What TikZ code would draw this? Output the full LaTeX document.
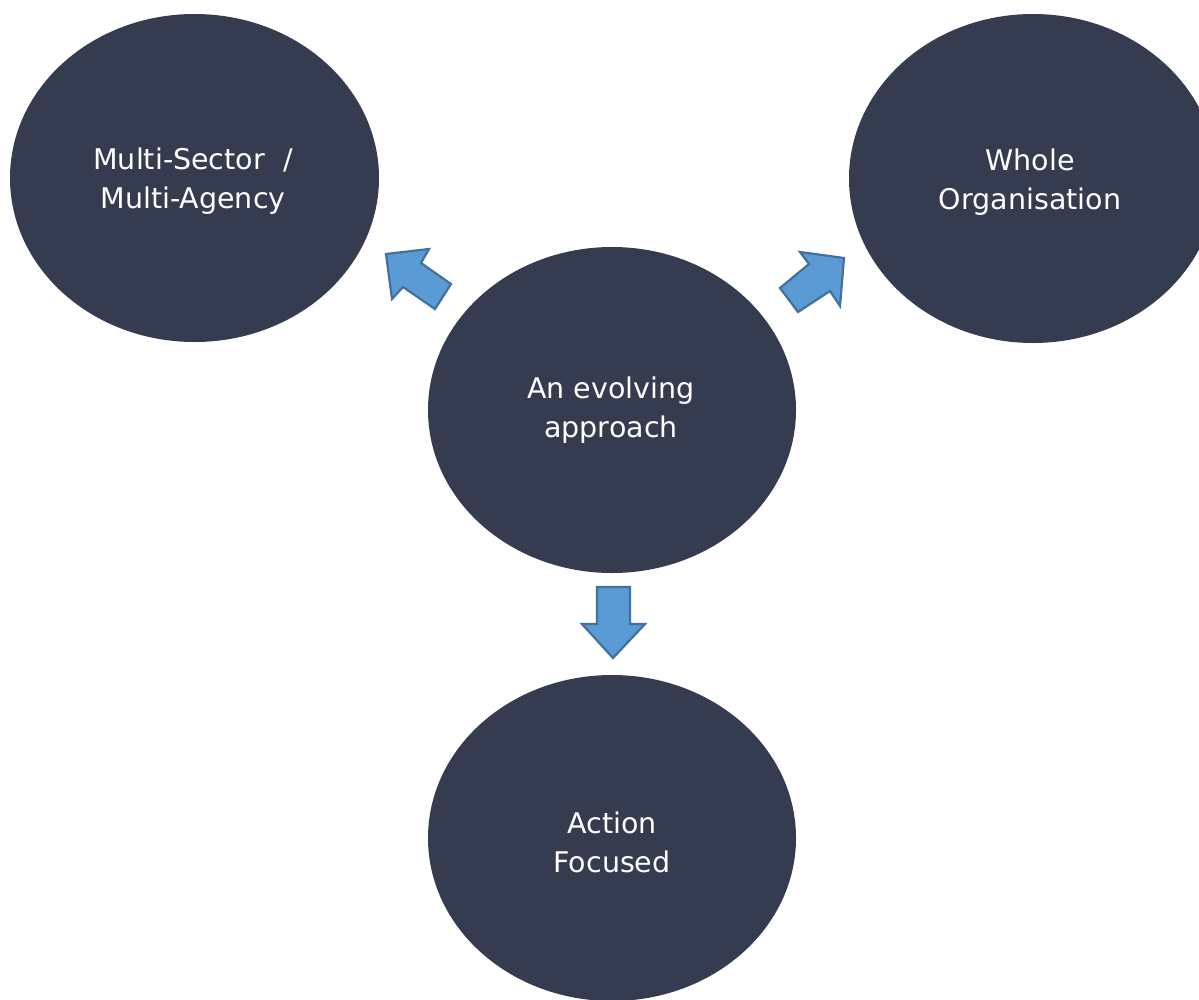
\documentclass[tikz,border=0pt]{standalone}
\usepackage{fontspec}
\setmainfont{DejaVu Sans}
\usetikzlibrary{shapes.geometric}
\definecolor{navy}{HTML}{353C50}
\definecolor{arrowfill}{HTML}{5B9BD5}
\definecolor{arrowline}{HTML}{41719C}
\tikzset{
  bubble/.style={ellipse, fill=navy, draw=none, inner sep=0pt},
  label/.style={text=white, align=center, font=\fontsize{28.5}{39}\selectfont, inner sep=0pt},
  blockarrow/.style={fill=arrowfill, draw=arrowline, line width=2.2pt, line join=miter}
}
\begin{document}
\begin{tikzpicture}[x=1pt,y=-1pt]
\useasboundingbox (0,0) rectangle (1199,999);
\clip (0,0) rectangle (1199,999);
\fill[white] (0,0) rectangle (1199,999);
% bubbles
\node[bubble, minimum width=369pt, minimum height=328pt] (ms) at (194.5,178) {};
\node[bubble, minimum width=368pt, minimum height=329pt] (wo) at (1033,178.5) {};
\node[bubble, minimum width=368pt, minimum height=326pt] (ev) at (612,410) {};
\node[bubble, minimum width=368pt, minimum height=326pt] (af) at (612,838) {};
% texts
\node[label] (tms) at (193,181) {Multi-Sector\ \ /\\Multi-Agency};
\node[label] (two) at (1030,182) {Whole\\Organisation};
\node[label] (tev) at (611,410) {An evolving\\approach};
\node[label] (taf) at (612,842) {Action\\Focused};
% block arrows
\draw[blockarrow] (386,254) -- (429,249) -- (421,263) -- (451,284) -- (435,309) -- (403,287) -- (392,299) -- cycle;
\draw[blockarrow] (844,258) -- (800,252) -- (809,264) -- (780,288) -- (798,312) -- (830,291) -- (840,306) -- cycle;
\draw[blockarrow] (597,587) -- (630,587) -- (630,624) -- (645,624) -- (613,658) -- (582,624) -- (597,624) -- cycle;
\end{tikzpicture}
\end{document}
